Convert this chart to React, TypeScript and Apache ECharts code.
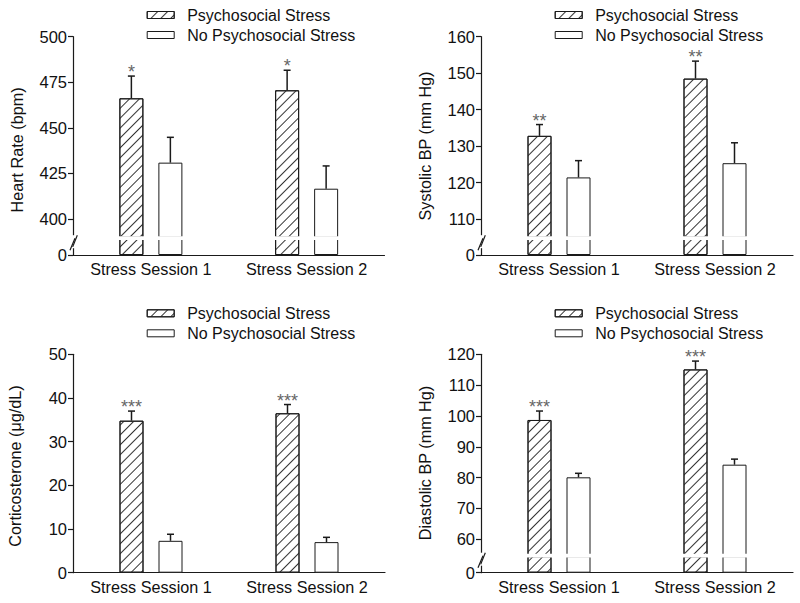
import React, { useEffect, useRef } from 'react';
import * as echarts from 'echarts';

const categories = ['Stress Session 1', 'Stress Session 2'];
const seriesNames = ['Psychosocial Stress', 'No Psychosocial Stress'];

const hrStress = [466.2, 470.6];
const hrStressErr = [12.2, 11.0];
const hrNoStress = [430.9, 416.6];
const hrNoStressErr = [13.9, 12.5];
const hrSig = ['*', '*'];
const hrTicks = [400, 425, 450, 475, 500];

const sbpStress = [132.8, 148.5];
const sbpStressErr = [3.1, 4.8];
const sbpNoStress = [121.4, 125.3];
const sbpNoStressErr = [4.6, 5.6];
const sbpSig = ['**', '**'];
const sbpTicks = [110, 120, 130, 140, 150, 160];

const cortStress = [34.8, 36.5];
const cortStressErr = [2.2, 2.0];
const cortNoStress = [7.3, 7.0];
const cortNoStressErr = [1.5, 1.1];
const cortSig = ['***', '***'];
const cortTicks = [0, 10, 20, 30, 40, 50];

const dbpStress = [98.7, 115.1];
const dbpStressErr = [2.9, 2.7];
const dbpNoStress = [80.1, 84.2];
const dbpNoStressErr = [1.3, 1.8];
const dbpSig = ['***', '***'];
const dbpTicks = [60, 70, 80, 90, 100, 110, 120];

const FONT = '"Liberation Sans", Arial, Helvetica, sans-serif';
const INK = '#1a1a1a';
const BAR_W = 24;
const BAR_GAP = 15;
const OFF = (BAR_W + BAR_GAP) / 2;

const HATCH = {
  symbol: 'rect',
  symbolSize: 1,
  color: '#333',
  dashArrayX: [1, 0],
  dashArrayY: [0.9, 5.2],
  rotation: -Math.PI / 4,
};

const panels = [
  {
    stress: hrStress, stressErr: hrStressErr, no: hrNoStress, noErr: hrNoStressErr, sig: hrSig, ticks: hrTicks,
    title: 'Heart Rate (bpm)', ax: 73, width: 311.5, top: 36.7, bottom: 237.2, zeroY: 255, min: 390, max: 500,
    broken: true, titleX: 16.7, titleY: 150, legendTop: 5,
  },
  {
    stress: sbpStress, stressErr: sbpStressErr, no: sbpNoStress, noErr: sbpNoStressErr, sig: sbpSig, ticks: sbpTicks,
    title: 'Systolic BP (mm Hg)', ax: 481, width: 312, top: 36.7, bottom: 237.2, zeroY: 255, min: 105, max: 160,
    broken: true, titleX: 425, titleY: 146, legendTop: 5,
  },
  {
    stress: cortStress, stressErr: cortStressErr, no: cortNoStress, noErr: cortNoStressErr, sig: cortSig, ticks: cortTicks,
    title: 'Corticosterone (\u03bcg/dL)', ax: 73, width: 312, top: 354.3, bottom: 572.7, zeroY: 572.7, min: 0, max: 50,
    broken: false, titleX: 15, titleY: 466, legendTop: 303.3,
  },
  {
    stress: dbpStress, stressErr: dbpStressErr, no: dbpNoStress, noErr: dbpNoStressErr, sig: dbpSig, ticks: dbpTicks,
    title: 'Diastolic BP (mm Hg)', ax: 481, width: 312, top: 354.3, bottom: 554.7, zeroY: 572.7, min: 55, max: 120,
    broken: true, titleX: 425, titleY: 463, legendTop: 303.3,
  },
];

function errSeries(g: number, vals: number[], errs: number[], sig: string[] | null, off: number) {
  return {
    type: 'custom',
    name: 'err',
    xAxisIndex: g,
    yAxisIndex: g,
    z: 5,
    data: vals.map((v, i) => [i, v, errs[i]]),
    renderItem: (params: any, api: any) => {
      const ci = api.value(0);
      const v = api.value(1);
      const e = api.value(2);
      const base = api.coord([ci, v]);
      const top = api.coord([ci, v + e]);
      const x = base[0] + off;
      const children: any[] = [
        { type: 'line', shape: { x1: x, y1: base[1], x2: x, y2: top[1] }, style: { stroke: INK, lineWidth: 1.5 } },
        { type: 'line', shape: { x1: x - 3.5, y1: top[1], x2: x + 3.5, y2: top[1] }, style: { stroke: INK, lineWidth: 1.5 } },
      ];
      if (sig && sig[params.dataIndex]) {
        children.push({
          type: 'text',
          x,
          y: top[1] - 4,
          style: {
            text: sig[params.dataIndex], fontSize: 18, fontFamily: FONT, fill: '#666',
            align: 'center', verticalAlign: 'middle',
          },
        });
      }
      return { type: 'group', children };
    },
  };
}

function barSeries(g: number, name: string, vals: number[], hatched: boolean) {
  const itemStyle: any = { color: '#fff', borderColor: INK, borderWidth: 1 };
  if (hatched) itemStyle.decal = HATCH;
  return {
    type: 'bar',
    name,
    xAxisIndex: g,
    yAxisIndex: g,
    barWidth: BAR_W,
    barGap: `${(BAR_GAP / BAR_W) * 100}%`,
    clip: true,
    itemStyle,
    data: vals,
  };
}

function buildOption() {
  const grid: any[] = [];
  const xAxis: any[] = [];
  const yAxis: any[] = [];
  const series: any[] = [];
  const legend: any[] = [];
  const graphic: any[] = [];

  const axisLineStyle = { color: INK, width: 1.2 };
  const labelStyle = { fontSize: 16, fontFamily: FONT, color: '#111' };
  const xLabel = { ...labelStyle, fontSize: 16.2, margin: 6, interval: 0 };

  panels.forEach((p) => {
    const g = grid.length;
    grid.push({ left: p.ax, top: p.top, width: p.width, height: p.bottom - p.top, outerBoundsMode: 'none' });
    xAxis.push({
      gridIndex: g,
      type: 'category',
      data: categories,
      show: !p.broken,
      axisLine: { show: true, lineStyle: axisLineStyle },
      axisTick: { show: false },
      axisLabel: xLabel,
      splitLine: { show: false },
    });
    yAxis.push({
      gridIndex: g,
      type: 'value',
      min: p.min,
      max: p.max,
      axisLine: { show: true, lineStyle: axisLineStyle },
      axisTick: { show: true, length: 5, lineStyle: axisLineStyle, customValues: p.ticks },
      axisLabel: { ...labelStyle, fontSize: 16.5, margin: 6, customValues: p.ticks },
      splitLine: { show: false },
    });
    series.push(barSeries(g, seriesNames[0], p.stress, true));
    series.push(barSeries(g, seriesNames[1], p.no, false));
    series.push(errSeries(g, p.stress, p.stressErr, p.sig, -OFF));
    series.push(errSeries(g, p.no, p.noErr, null, OFF));

    if (p.broken) {
      const h = grid.length;
      grid.push({ left: p.ax, top: p.bottom + 2, width: p.width, height: p.zeroY - p.bottom - 2, outerBoundsMode: 'none' });
      xAxis.push({
        gridIndex: h,
        type: 'category',
        data: categories,
        axisLine: { show: true, lineStyle: axisLineStyle },
        axisTick: { show: false },
        axisLabel: xLabel,
        splitLine: { show: false },
      });
      yAxis.push({
        gridIndex: h,
        type: 'value',
        min: 0,
        max: 1,
        axisLine: { show: true, lineStyle: axisLineStyle },
        axisTick: { show: true, length: 5, lineStyle: axisLineStyle, customValues: [0] },
        axisLabel: { ...labelStyle, fontSize: 16.5, margin: 6, customValues: [0] },
        splitLine: { show: false },
      });
      series.push(barSeries(h, seriesNames[0], p.stress, true));
      series.push(barSeries(h, seriesNames[1], p.no, false));

      const b = p.bottom;
      graphic.push(
        { type: 'rect', z: 100, shape: { x: p.ax + 1, y: b - 0.9, width: p.width, height: 3.8 }, style: { fill: '#fff' } },
        { type: 'rect', z: 100, shape: { x: p.ax - 3, y: b - 2, width: 6, height: 13 }, style: { fill: '#fff' } },
        { type: 'line', z: 101, shape: { x1: p.ax - 3, y1: b + 13, x2: p.ax + 2, y2: b + 1 }, style: { stroke: INK, lineWidth: 1.2 } },
        { type: 'line', z: 101, shape: { x1: p.ax - 0.3, y1: b + 9.7, x2: p.ax + 4.3, y2: b - 2 }, style: { stroke: INK, lineWidth: 1.2 } },
      );
    }

    legend.push({
      left: p.ax + 73.7,
      top: p.legendTop,
      padding: 0,
      orient: 'vertical',
      itemWidth: 27,
      itemHeight: 7,
      itemGap: 0,
      icon: 'rect',
      selectedMode: false,
      data: seriesNames,
      itemStyle: { borderColor: INK, borderWidth: 1 },
      textStyle: { fontSize: 16, fontFamily: FONT, color: '#111', lineHeight: 20, padding: [0, 0, 0, 8] },
    });

    graphic.push({
      type: 'text',
      z: 100,
      x: p.titleX,
      y: p.titleY,
      rotation: Math.PI / 2,
      style: { text: p.title, fontSize: 16.2, fontFamily: FONT, fill: '#111', align: 'center', verticalAlign: 'middle' },
    });
  });

  return {
    animation: false,
    backgroundColor: '#fff',
    grid,
    xAxis,
    yAxis,
    series,
    legend,
    graphic,
  };
}

export default function App() {
  const ref = useRef<HTMLDivElement>(null);
  useEffect(() => {
    document.body.style.margin = '0';
    const chart = echarts.init(ref.current!, null, { renderer: 'svg' });
    chart.setOption(buildOption() as any);
    return () => chart.dispose();
  }, []);
  return <div ref={ref} style={{ width: 800, height: 603 }} />;
}
